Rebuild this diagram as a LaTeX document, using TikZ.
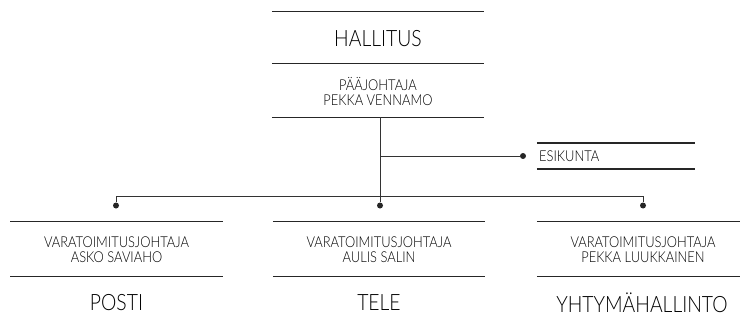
\documentclass[tikz,border=0pt]{standalone}
\usepackage{fontspec}
\setmainfont{Lato Light}[FakeStretch=0.86]
\begin{document}
\begin{tikzpicture}[x=1pt,y=-1pt,
  unit/.style={inner sep=0pt, minimum width=212pt, align=center, font=\fontsize{15}{15}\selectfont},
  rule/.style={line width=1.1pt, black!85},
  link/.style={line width=0.8pt, black!80},
  dot/.style={circle, fill=black!85, inner sep=0pt, minimum size=6pt},
  big/.style={inner sep=0pt, font=\fontsize{22.5}{24}\selectfont},
]
\useasboundingbox (0,0) rectangle (740,324);

% board and managing director
\node[unit, minimum height=51pt] (hall) at (378,37.5) {};
\node[big] (hallt) at (378,39) {HALLITUS};
\node[unit, minimum height=54pt] (ceo) at (378,90) {};
\node[unit] (ceot) at (378,91.5) {PÄÄJOHTAJA\\PEKKA VENNAMO};
\draw[rule] (hall.north west) -- (hall.north east);
\draw[rule] (hall.south west) -- (hall.south east);
\draw[rule] (ceo.south west) -- (ceo.south east);

% staff unit
\node[inner sep=0pt, minimum width=158pt, minimum height=26pt] (esi) at (616,156) {};
\node[anchor=west, inner sep=0pt, font=\fontsize{15}{15}\selectfont] (esit) at (539,156.5) {ESIKUNTA};
\draw[rule, line width=1.6pt] (esi.north west) -- (esi.north east);
\draw[rule, line width=1.6pt] (esi.south west) -- (esi.south east);

% connectors
\coordinate (top) at (380,117);
\coordinate (tee) at (380,156);
\coordinate (busL) at (116,196);
\coordinate (busM) at (380,196);
\coordinate (busR) at (643,196);
\node[dot] (dE) at (523,156) {};
\node[dot] (dL) at (116,205.5) {};
\node[dot] (dM) at (380,205.5) {};
\node[dot] (dR) at (643,205.5) {};
\draw[link] (top) -- (busM);
\draw[link] (tee) -- (dE);
\draw[link] (dL) -- (busL) -- (busR) -- (dR);
\draw[link] (busM) -- (dM);

% divisions
\node[unit, minimum height=54pt] (posti) at (116.5,249) {};
\node[unit] (postit) at (116.5,250) {VARATOIMITUSJOHTAJA\\ASKO SAVIAHO};
\node[big] (postin) at (116.5,303) {POSTI};
\node[unit, minimum height=54pt] (tele) at (379,249) {};
\node[unit] (telet) at (379,250) {VARATOIMITUSJOHTAJA\\AULIS SALIN};
\node[big] (telen) at (379,303) {TELE};
\node[unit, minimum height=54pt] (yht) at (643,249) {};
\node[unit] (yhtt) at (643,250) {VARATOIMITUSJOHTAJA\\PEKKA LUUKKAINEN};
\node[big] (yhtn) at (642,303) {YHTYMÄHALLINTO};
\foreach \b in {posti,tele,yht}{
  \draw[rule] (\b.north west) -- (\b.north east);
  \draw[rule] (\b.south west) -- (\b.south east);
}
\end{tikzpicture}
\end{document}
